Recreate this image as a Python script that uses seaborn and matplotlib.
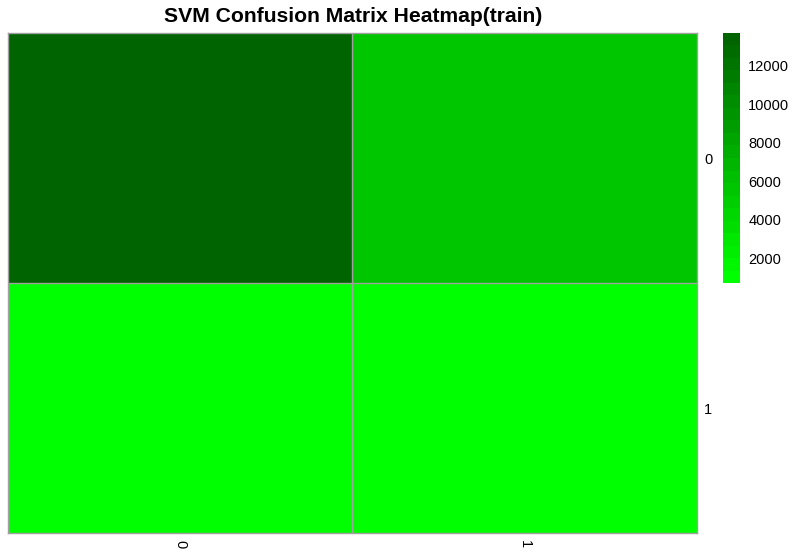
import matplotlib
matplotlib.use("Agg")
import matplotlib.pyplot as plt
import seaborn as sns
import numpy as np
import pandas as pd
from matplotlib.colors import LinearSegmentedColormap

# Data
row_labels = ["0", "1"]
col_labels = ["0", "1"]
row0_values = [13700, 5300]
row1_values = [750, 700]
cbar_ticks = [2000, 4000, 6000, 8000, 10000, 12000]

df = pd.DataFrame([row0_values, row1_values], index=row_labels, columns=col_labels)

plt.rcParams['font.family'] = ['Liberation Sans', 'DejaVu Sans']

W, H = 803, 560
fig = plt.figure(figsize=(W / 100, H / 100), dpi=100)
ax = fig.add_axes([8 / W, 1 - 533 / H, (697 - 8) / W, (533 - 33) / H])
cax = fig.add_axes([723 / W, 1 - 283 / H, (740 - 723) / W, (283 - 33) / H])

cmap = LinearSegmentedColormap.from_list("greens", ["#00FF00", "#006400"], N=20)
vals = df.values
sns.heatmap(df, ax=ax, cbar_ax=cax, cmap=cmap, vmin=vals.min(), vmax=vals.max(),
            linewidths=0, cbar_kws={"ticks": cbar_ticks})

# cell separators
for k in range(1, len(row_labels)):
    ax.axhline(k, color="#A0A0A0", lw=1.0, zorder=4)
for k in range(1, len(col_labels)):
    ax.axvline(k, color="#A0A0A0", lw=1.0, zorder=4)

for sp in ax.spines.values():
    sp.set_visible(True)
    sp.set_color("#A0A0A0")
    sp.set_linewidth(1.0)
    sp.set_zorder(5)

ax.yaxis.tick_right()
ax.set_yticklabels(row_labels, rotation=0, fontsize=10.5)
ax.set_xticklabels(col_labels, rotation=-90, fontsize=10.5)
ax.tick_params(axis="both", length=0, pad=5)
ax.set_xlabel("")
ax.set_ylabel("")

cax.tick_params(length=0, labelsize=10.5, pad=6)
cax.set_yticklabels([str(t) for t in cbar_ticks])
cb = ax.collections[0].colorbar
cb.outline.set_visible(False)

fig.text(353 / W, 1 - 17 / H, "SVM Confusion Matrix Heatmap(train)", ha="center", va="center",
         fontsize=15.2, fontweight="bold")

fig.savefig("out.png", dpi=100)
